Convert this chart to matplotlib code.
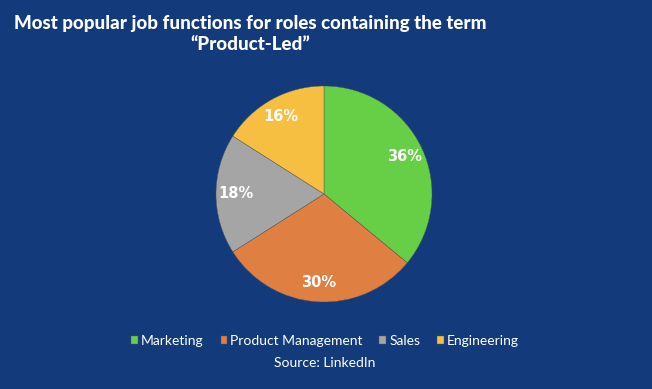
import matplotlib
matplotlib.use("Agg")
import matplotlib.pyplot as plt

# Datos
categorias = ["Marketing", "Product Management", "Sales", "Engineering"]
porcentajes = [36, 30, 18, 16]
colores = ["#67CF45", "#E07F42", "#A5A5A5", "#F7BF41"]

FONDO = "#133B7C"

fig = plt.figure(figsize=(6.52, 3.89), dpi=100, facecolor=FONDO)

# Titulo en dos lineas, centrado algo a la izquierda
fig.text(250 / 652, 1 - 34 / 389, "Most popular job functions for roles containing the term\n\u201cProduct-Led\u201d",
         ha="center", va="center", color="white", fontsize=13.5, fontweight="black",
         family="Lato", linespacing=1.3)

# Pie: centro ~ (324,194) px, radio ~108 px
ax = fig.add_axes([(324 - 108) / 652, 1 - (194 + 108) / 389, 216 / 652, 216 / 389])
ax.set_facecolor(FONDO)
wedges, textos, autotextos = ax.pie(
    porcentajes, colors=colores, startangle=90, counterclock=False,
    autopct=lambda p: f"{p:.0f}%", pctdistance=0.82,
    wedgeprops=dict(edgecolor="#555555", linewidth=0.3))
for t in autotextos:
    t.set_color("white")
    t.set_fontweight("bold")
    t.set_fontsize(10.5)
ax.set_xlim(-1, 1)
ax.set_ylim(-1, 1)
ax.set_aspect("equal")

# Leyenda inferior
leg = fig.legend(wedges, categorias, loc="center", bbox_to_anchor=(325 / 652, 1 - 341 / 389),
                 ncol=4, frameon=False, labelcolor="white",
                 handlelength=0.5, handleheight=0.5, handletextpad=0.2,
                 columnspacing=1.2, prop={"family": "Lato", "size": 10})

fig.text(325 / 652, 1 - 363 / 389, "Source: LinkedIn", ha="center", va="center",
         color="white", fontsize=10, family="Lato")

fig.savefig("out.png", dpi=100, facecolor=FONDO)
